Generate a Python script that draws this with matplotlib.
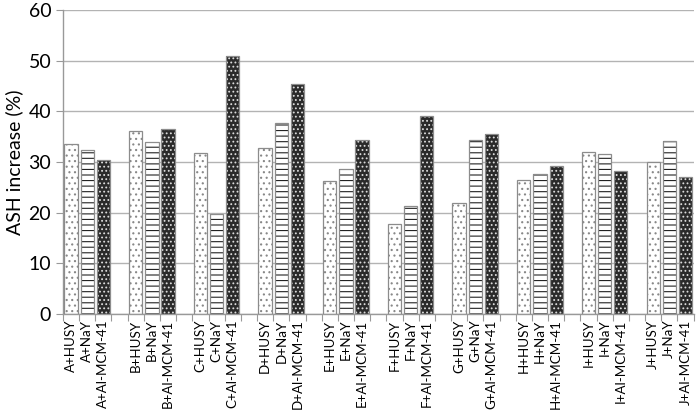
import matplotlib.pyplot as plt
import numpy as np

plt.rcParams['font.family'] = ['Lato', 'DejaVu Sans']
plt.rcParams['hatch.linewidth'] = 0.8

groups = ['A', 'B', 'C', 'D', 'E', 'F', 'G', 'H', 'I', 'J']
catalysts = ['HUSY', 'NaY', 'Al-MCM-41']
husy = [33.5, 36.2, 31.8, 32.7, 26.2, 17.7, 22.0, 26.4, 31.9, 30.1]
nay = [32.4, 34.0, 19.8, 37.7, 28.6, 21.4, 34.3, 27.6, 31.6, 34.2]
almcm = [30.4, 36.6, 51.0, 45.4, 34.4, 39.1, 35.6, 29.2, 28.2, 27.0]

series = [husy, nay, almcm]
# (face, hatch colour, hatch)
styles = [('white', '#888888', '...'),
          ('white', '#222222', '---'),
          ('#2a2a2a', '#dddddd', '....')]

fig = plt.figure(figsize=(6.96, 4.15), dpi=100)
ax = fig.add_axes([0.0905, 0.243, 0.906, 0.733])

slot = 4
width = 0.82
for k, (vals, (fc, hc, h)) in enumerate(zip(series, styles)):
    x = np.arange(len(groups)) * slot + k
    ax.bar(x, vals, width, color=fc, edgecolor=hc, hatch=h, linewidth=0, zorder=2)
    ax.bar(x, vals, width, fill=False, edgecolor='#8c8c8c', linewidth=0.9, zorder=3)

n_slots = len(groups) * slot - 1
centers, labels = [], []
for i, g in enumerate(groups):
    for k, c in enumerate(catalysts):
        centers.append(i * slot + k)
        labels.append(f'{g}+{c}')

ax.set_xlim(-0.5, n_slots - 0.5)
ax.set_xticks(centers)
ax.set_xticklabels(labels, rotation=90, fontsize=9.6)
ax.tick_params(axis='x', which='major', length=0, pad=4)
ax.set_xticks(np.arange(n_slots + 1) - 0.5, minor=True)
ax.tick_params(axis='x', which='minor', length=5, color='#999999', width=0.8)

ax.set_ylim(0, 60)
ax.set_yticks(range(0, 61, 10))
ax.tick_params(axis='y', labelsize=14, length=5, color='#999999', width=0.8)
ax.set_ylabel('ASH increase (%)', fontsize=14, labelpad=4)
ax.yaxis.grid(True, color='#b3b3b3', linewidth=1.0, zorder=0)
ax.set_axisbelow(True)

for s in ['top', 'right']:
    ax.spines[s].set_visible(False)
for s in ['left', 'bottom']:
    ax.spines[s].set_color('#999999')
    ax.spines[s].set_linewidth(1.0)

fig.savefig('out.png', dpi=100)
